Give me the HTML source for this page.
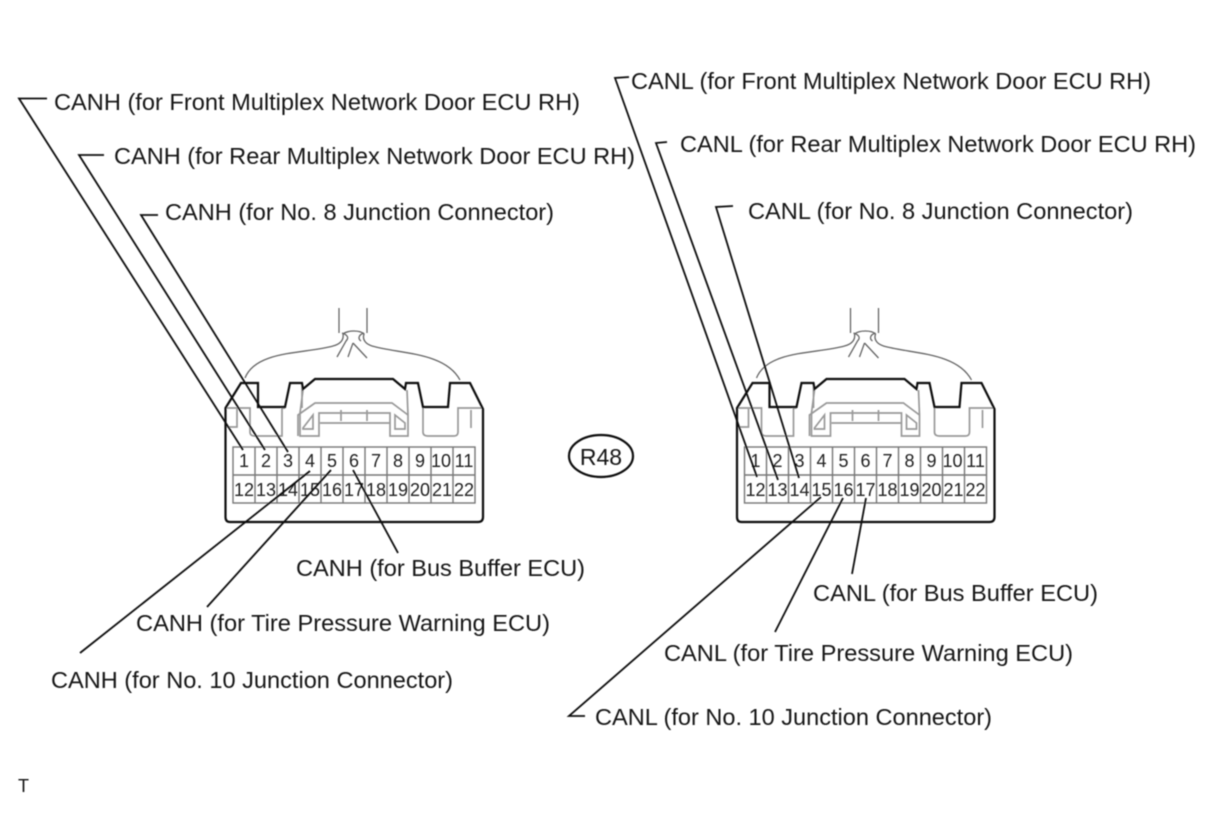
<!DOCTYPE html>
<html>
<head>
<meta charset="utf-8">
<style>
html,body{margin:0;padding:0;background:#fff;width:1210px;height:814px;overflow:hidden}
svg{display:block}
text{font-family:"Liberation Sans",sans-serif;fill:#151515}
.l{font-size:23px}
.d{font-size:18px;text-anchor:middle;fill:#222}
.blur{filter:url(#b)}
</style>
</head>
<body>
<svg width="1210" height="814" viewBox="0 0 1210 814" xmlns="http://www.w3.org/2000/svg">
<defs>
<filter id="b" x="-5%" y="-5%" width="110%" height="110%"><feGaussianBlur stdDeviation="0.5"/></filter>
<g id="conn">
  <g fill="none" stroke="#666" stroke-width="1.300">
    <path d="M339 308V333M367 308V333"/>
    <path d="M245 378C256 350 305 354 333 346C340 344 344 340 343 334C348 330 360 330 364 334C362 340 366 344 372 346C400 354 445 352 460 380"/>
    <path d="M342 333C348 335 349 338 346 341L337 357M353 343L348 357M353 343L367 358M364 333C358 335 358 339 361 341"/>
    <g stroke="#999" stroke-width="1.700">
      <path d="M226 408H250V432Q250 436 255 436H282V408H285"/>
      <path d="M237 409V427H226"/>
      <path d="M302 384V408M303 390L300 413V436H319V413H390V436H408V415L407 390"/>
      <path d="M298 436V415L315 403H392L408 415"/>
      <path d="M320 423H390M341 410V421M367 410V421"/>
      <path d="M303 428L313 415V429H303ZM395 415L405 423V429H395Z"/>
      <path d="M418 384L423 408V432Q423 436 428 436H454Q458 436 458 432V408H482"/>
      <path d="M471 410V428"/>
    </g>
  </g>
  <path d="M225.500 408L241 383H258V407H285L290 383H302L303 389L315 379H393L405 389L406 383H418L423 407H448L450 383H470L483 409V517Q483 522 478 522H230Q225.500 522 225.500 517Z" fill="none" stroke="#111" stroke-width="2.200"/>
  <g fill="none" stroke="#777" stroke-width="1.400">
    <rect x="233" y="447" width="242" height="56"/>
    <path d="M233 475H475M255 447V503M277 447V503M299 447V503M321 447V503M343 447V503M365 447V503M387 447V503M409 447V503M431 447V503M453 447V503"/>
  </g>
  <g>
    <text class="d" x="244" y="467">1</text><text class="d" x="266" y="467">2</text><text class="d" x="288" y="467">3</text><text class="d" x="310" y="467">4</text><text class="d" x="332" y="467">5</text><text class="d" x="354" y="467">6</text><text class="d" x="376" y="467">7</text><text class="d" x="398" y="467">8</text><text class="d" x="420" y="467">9</text><text class="d" x="441" y="467">10</text><text class="d" x="464" y="467">11</text>
    <text class="d" x="244" y="496">12</text><text class="d" x="266" y="496">13</text><text class="d" x="288" y="496">14</text><text class="d" x="310" y="496">15</text><text class="d" x="332" y="496">16</text><text class="d" x="354" y="496">17</text><text class="d" x="376" y="496">18</text><text class="d" x="398" y="496">19</text><text class="d" x="420" y="496">20</text><text class="d" x="442" y="496">21</text><text class="d" x="464" y="496">22</text>
  </g>
</g>
</defs>
<rect width="1210" height="814" fill="#fff"/>
<g class="blur">
  <use href="#conn"/>
  <use href="#conn" transform="translate(511.500 0)"/>

  <g fill="none" stroke="#111" stroke-width="1.800">
    <path d="M47 98.500H19L243 450"/>
    <path d="M104 155H79L265 450"/>
    <path d="M158 215H141L288 452"/>
    <path d="M80 653L310 471"/>
    <path d="M207 607L331 470"/>
    <path d="M353 470L398 553"/>
    <path d="M629 77L615 78L757 477"/>
    <path d="M667 142L656 143L778 480"/>
    <path d="M733 206L716 207L799 478"/>
    <path d="M585 716H569L821 497"/>
    <path d="M775 632L843 498"/>
    <path d="M852 574L866 498"/>
  </g>

  <text class="l" x="54" y="110" textLength="526" lengthAdjust="spacingAndGlyphs">CANH (for Front Multiplex Network Door ECU RH)</text>
  <text class="l" x="114" y="164" textLength="521" lengthAdjust="spacingAndGlyphs">CANH (for Rear Multiplex Network Door ECU RH)</text>
  <text class="l" x="165" y="220" textLength="389" lengthAdjust="spacingAndGlyphs">CANH (for No. 8 Junction Connector)</text>
  <text class="l" x="296" y="576" textLength="289" lengthAdjust="spacingAndGlyphs">CANH (for Bus Buffer ECU)</text>
  <text class="l" x="136" y="631" textLength="414" lengthAdjust="spacingAndGlyphs">CANH (for Tire Pressure Warning ECU)</text>
  <text class="l" x="51" y="688" textLength="402" lengthAdjust="spacingAndGlyphs">CANH (for No. 10 Junction Connector)</text>

  <text class="l" x="631" y="89" textLength="520" lengthAdjust="spacingAndGlyphs">CANL (for Front Multiplex Network Door ECU RH)</text>
  <text class="l" x="680" y="152" textLength="516" lengthAdjust="spacingAndGlyphs">CANL (for Rear Multiplex Network Door ECU RH)</text>
  <text class="l" x="748" y="219" textLength="385" lengthAdjust="spacingAndGlyphs">CANL (for No. 8 Junction Connector)</text>
  <text class="l" x="813" y="601" textLength="285" lengthAdjust="spacingAndGlyphs">CANL (for Bus Buffer ECU)</text>
  <text class="l" x="664" y="661" textLength="409" lengthAdjust="spacingAndGlyphs">CANL (for Tire Pressure Warning ECU)</text>
  <text class="l" x="595" y="725" textLength="397" lengthAdjust="spacingAndGlyphs">CANL (for No. 10 Junction Connector)</text>

  <ellipse cx="601" cy="456" rx="32" ry="21" fill="none" stroke="#111" stroke-width="2.200"/>
  <text x="601" y="465" font-size="23" text-anchor="middle">R48</text>
  <text x="18" y="792" font-size="18">T</text>
</g>
</svg>
</body>
</html>
